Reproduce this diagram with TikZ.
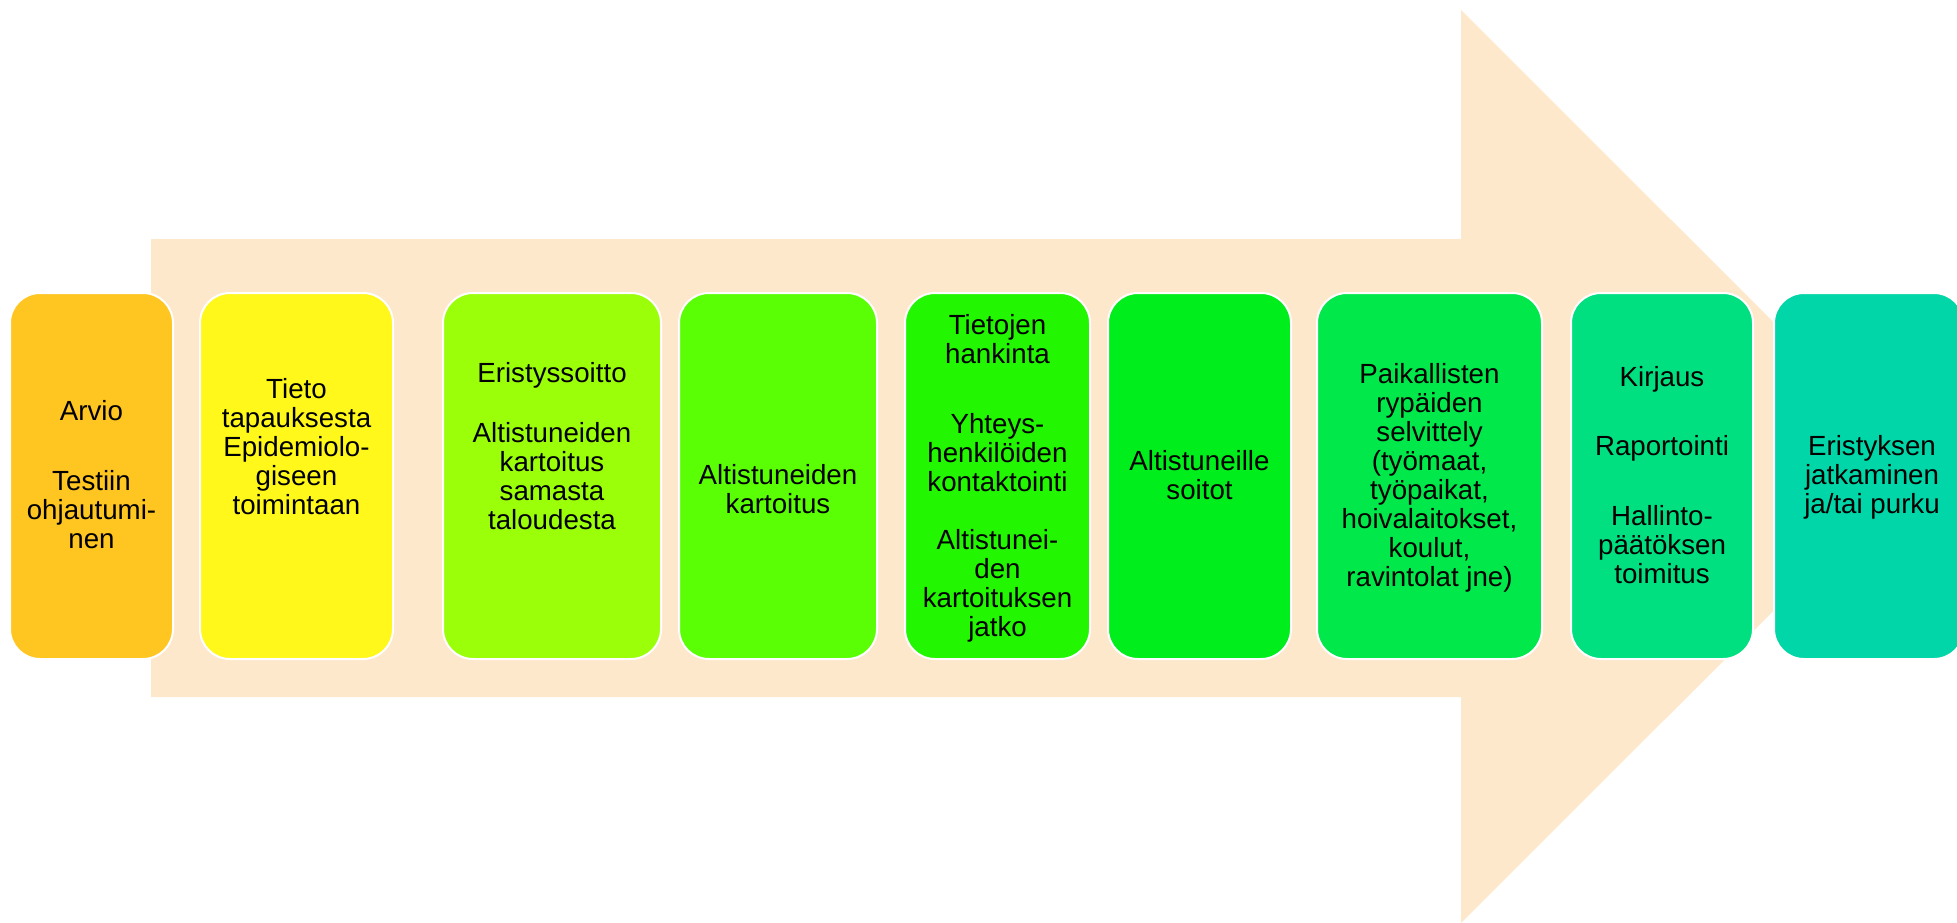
\documentclass[tikz,border=0pt]{standalone}
\usepackage{fontspec}
\setmainfont{Liberation Sans}
\definecolor{arrowc}{HTML}{FEE8CC}
\definecolor{c1}{HTML}{FFC520}
\definecolor{c2}{HTML}{FFF81A}
\definecolor{c3}{HTML}{9CFF0A}
\definecolor{c4}{HTML}{5BFF05}
\definecolor{c5}{HTML}{22F600}
\definecolor{c6}{HTML}{00EE1C}
\definecolor{c7}{HTML}{00E84A}
\definecolor{c8}{HTML}{00E080}
\definecolor{c9}{HTML}{00D6A8}
\begin{document}
\begin{tikzpicture}[x=1pt,y=-1pt,
  box/.style={draw=white, line width=2pt, rounded corners=30pt, minimum height=366pt, inner sep=0pt},
  lbl/.style={align=center, inner sep=0pt, font=\fontsize{27.7}{29}\selectfont, text=black}]
\useasboundingbox (0,0) rectangle (1957,923);
% big background arrow
\fill[arrowc] (151,239) -- (1461,239) -- (1461,10) -- (1918,466.5) -- (1461,923) -- (1461,697) -- (151,697) -- cycle;
% boxes
\node[box, fill=c1, minimum width=163pt] (b1) at (91.5,476) {};
\node[box, fill=c2, minimum width=193pt] (b2) at (296.5,476) {};
\node[box, fill=c3, minimum width=218pt] (b3) at (552,476) {};
\node[box, fill=c4, minimum width=198pt] (b4) at (778,476) {};
\node[box, fill=c5, minimum width=185pt] (b5) at (997.5,476) {};
\node[box, fill=c6, minimum width=183pt] (b6) at (1199.5,476) {};
\node[box, fill=c7, minimum width=225pt] (b7) at (1429.5,476) {};
\node[box, fill=c8, minimum width=182pt] (b8) at (1662,476) {};
\node[box, fill=c9, minimum width=190pt] (b9) at (1869,476) {};
% texts
\node[lbl] (t1) at (91.5,479) {\strut Arvio\\[41pt] Testiin\\ ohjautumi-\\ nen\strut};
\node[lbl] (t2) at (296.5,450.5) {\strut Tieto\\ tapauksesta\\ Epidemiolo-\\ giseen\\ toimintaan\strut};
\node[lbl] (t3) at (552,450) {\strut Eristyssoitto\\[31pt] Altistuneiden\\ kartoitus\\ samasta\\ taloudesta\strut};
\node[lbl] (t4) at (778,493) {\strut Altistuneiden\\ kartoitus\strut};
\node[lbl] (t5) at (997.5,480) {\strut Tietojen\\ hankinta\\[41pt] Yhteys-\\ henkilöiden\\ kontaktointi\\[29pt] Altistunei-\\ den\\ kartoituksen\\ jatko\strut};
\node[lbl] (t6) at (1199.5,479) {\strut Altistuneille\\ soitot\strut};
\node[lbl] (t7) at (1429.5,479) {\strut Paikallisten\\ rypäiden\\ selvittely\\ (työmaat,\\ työpaikat,\\ hoivalaitokset,\\ koulut,\\ ravintolat jne)\strut};
\node[lbl] (t8) at (1662,479.5) {\strut Kirjaus\\[40pt] Raportointi\\[41pt] Hallinto-\\ päätöksen\\ toimitus\strut};
\node[lbl] (t9) at (1872,479) {\strut Eristyksen\\ jatkaminen\\ ja/tai purku\strut};
\end{tikzpicture}
\end{document}
